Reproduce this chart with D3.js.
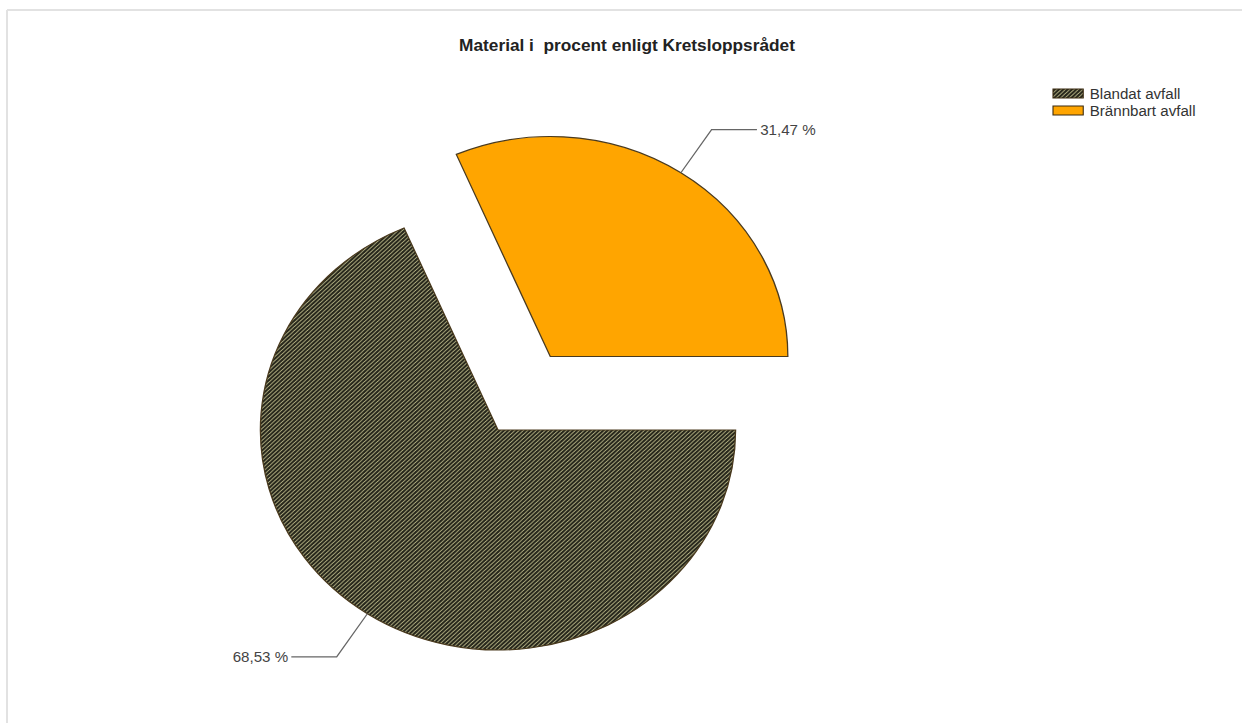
<!DOCTYPE html>
<html>
<head>
<meta charset="utf-8">
<script src="https://cdn.jsdelivr.net/npm/d3@7/dist/d3.min.js"></script>
<style>
  html, body { margin: 0; padding: 0; background: #fff; }
  svg { display: block; }
  text { font-family: Arial, "Liberation Sans", sans-serif; }
</style>
</head>
<body>
<svg id="chart" width="1242" height="723"></svg>
<script>
// Chart data
const title = "Material i  procent enligt Kretsloppsrådet";
const categories = ["Blandat avfall", "Brännbart avfall"];
const values = [68.53, 31.47];
const explode = [0, 0.4];          // fraction of radius each slice is pulled out
const fills = ["url(#hatch)", "#ffa500"];

const W = 1242, H = 723;
const sx = 1.08;                    // horizontal stretch of the drawing
const svg = d3.select("#chart");

// Light frame along top and left
svg.append("line").attr("x1", 7).attr("y1", 10).attr("x2", W).attr("y2", 10)
  .attr("stroke", "#e2e2e2").attr("stroke-width", 2);
svg.append("line").attr("x1", 7).attr("y1", 10).attr("x2", 7).attr("y2", H)
  .attr("stroke", "#e2e2e2").attr("stroke-width", 2);

// Diagonal hatch for the mixed-waste slice
const defs = svg.append("defs");
const pat = defs.append("pattern").attr("id", "hatch")
  .attr("patternUnits", "userSpaceOnUse").attr("width", 4).attr("height", 4);
pat.append("rect").attr("width", 4).attr("height", 4).attr("fill", "#26261b");
pat.append("path").attr("d", "M0,4 L4,0 M-1,1 L1,-1 M3,5 L5,3")
  .attr("stroke", "#c4c290").attr("stroke-width", 0.85);

const root = svg.append("g").attr("transform", `scale(${sx},1)`);

// Title
root.append("text")
  .attr("x", 627 / sx).attr("y", 51)
  .attr("text-anchor", "middle")
  .attr("font-size", 16).attr("font-weight", "bold").attr("fill", "#222")
  .attr("xml:space", "preserve")
  .text(title);

// Pie
const cx = 498 / sx, cy = 430, r = 220;
const pie = d3.pie().sort(null).value(d => d)
  .startAngle(Math.PI / 2).endAngle(Math.PI / 2 + 2 * Math.PI);
const arc = d3.arc().innerRadius(0).outerRadius(r);
const arcs = pie(values);

const fmt = v => v.toFixed(2).replace(".", ",") + " %";

arcs.forEach((a, i) => {
  const mid = (a.startAngle + a.endAngle) / 2;
  const dx = Math.sin(mid), dy = -Math.cos(mid);
  const ox = cx + dx * explode[i] * r, oy = cy + dy * explode[i] * r;
  const g = root.append("g").attr("transform", `translate(${ox},${oy})`);
  g.append("path").attr("d", arc(a))
    .attr("fill", fills[i])
    .attr("stroke", "#4a3a1e").attr("stroke-width", 1.2)
    .attr("stroke-linejoin", "miter");

  // Leader line and value label
  const rOut = r * 1.235;
  const p0 = [dx * r, dy * r];
  const p1 = [dx * rOut, dy * rOut];
  const side = dx >= 0 ? 1 : -1;
  const p2 = [p1[0] + side * 42, p1[1]];
  g.append("path")
    .attr("d", d3.line()([p0, p1, p2]))
    .attr("fill", "none").attr("stroke", "#666").attr("stroke-width", 1.2);
  g.append("text")
    .attr("x", p2[0] + side * 3).attr("y", p2[1] + 5)
    .attr("text-anchor", side > 0 ? "start" : "end")
    .attr("font-size", 14).attr("fill", "#444")
    .text(fmt(values[i]));
});

// Legend
const legend = root.append("g").attr("transform", `translate(${1053 / sx},89)`);
categories.forEach((c, i) => {
  const row = legend.append("g").attr("transform", `translate(0,${i * 17})`);
  row.append("rect").attr("width", 28).attr("height", 9)
    .attr("fill", fills[i]).attr("stroke", "#3a2a10").attr("stroke-width", 1);
  row.append("text").attr("x", 34).attr("y", 9.5)
    .attr("font-size", 14).attr("fill", "#333").text(c);
});
</script>
</body>
</html>
